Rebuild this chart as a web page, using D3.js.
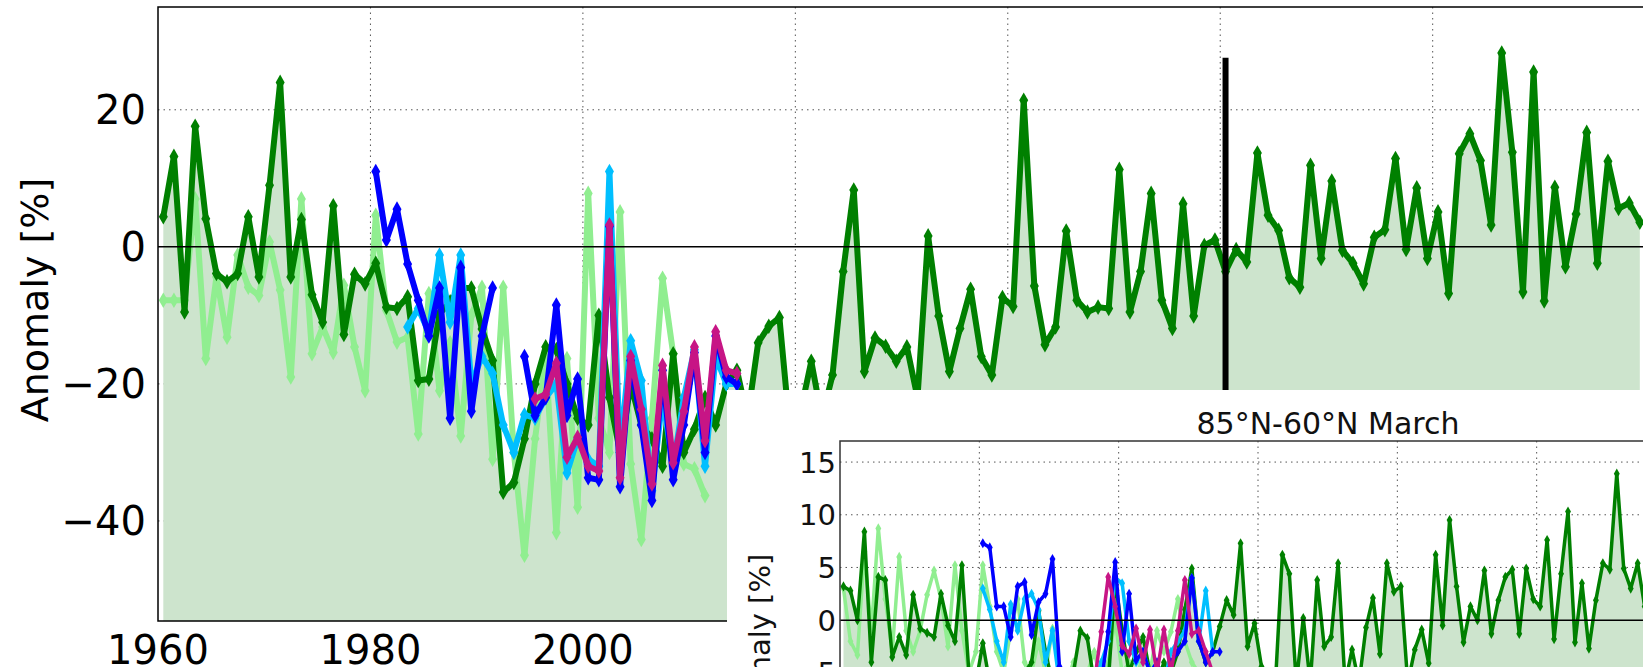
<!DOCTYPE html>
<html><head><meta charset="utf-8">
<script src="https://cdn.jsdelivr.net/npm/d3@7"></script>
<style>body{margin:0;background:#fff;overflow:hidden}text{font-family:"DejaVu Sans",sans-serif}</style>
</head><body><div id="chart"></div>
<script>
// ---- data (anomaly %, one value per year) ----
const modelStart = 1960
const modelMain = [4.4,13.2,-9.5,17.6,4.1,-3.9,-5.1,-3.9,4.4,-4.4,9,24,-4.4,4,-7,-11,6,-12.8,-4,-5.4,
  -2.4,-8.8,-9,-7.3,-19.5,-19.3,-9.8,-8,-6,-6,-12,-16.6,-35.8,-34.4,-28,-20,-14.6,-15,-20,-25,
  -26,-10,-22,-30,-20,-26,-28,-32,-15.6,-30,-26.6,-22,-26,-20,-18,-25,-14,-11.6,-10.3,-27,
  -24,-16.7,-25,-18.7,-3.6,8.3,-18.2,-13.3,-14.5,-16.7,-14.6,-22,1.6,-10.1,-18.2,-11.9,-6.2,-16,-18.7,-7.4,
  -8.7,21.4,-5.7,-14.3,-11.7,2.3,-7.8,-9.5,-8.8,-9,11.3,-9.5,-3.6,7.8,-7.8,-11.9,6.3,-10.1,0.2,1,
  -3.6,-0.4,-2.2,13.7,4.6,2.4,-4.5,-5.9,11.9,-1.7,9.6,-0.5,-2.4,-5.4,1.4,2.5,12.9,-0.4,8.6,-1.7,
  5.1,-6.8,13.6,16.5,12.6,3.2,28.3,13.8,-6.6,25.5,-7.9,8.7,-2.9,4.8,16.7,-2.4,12.5,5.6,6.4,3.6]
const lightStart = 1960
const lightMain = [-7.8,-7.8,-7.8,7,-16.3,-4.4,-13.2,-1.2,-5.9,-7.1,0.7,-6.3,-19,7,-15.6,-11.7,-15.4,-5.6,-14.6,-21,
  4.6,-9.3,-13.9,-13.2,-27.3,-6.8,-21,-14,-27.6,-10,-5.9,-31,-5.9,-30,-45,-28,-16,-41.7,-16.3,-38,
  7.8,-25,-30,5.1,-31.7,-42.7,-25,-4.6,-15.6,-31.7,-32.4,-36.3]
const blueStartA = 1980
const blueMainA = [11,1,5.5,-2.5,-7.8,-13,-6,-25,-3,-24,-13,-6]
const blueStartB = 1994
const blueMainB = [-16,-24.6,-22,-8.5,-24.6,-19.3,-33.7,-34,3,-35,-16.6,-26,-37,-18,-34,-26,-15.4,-30,-13,-19,-20]
const cyanStart = 1983
const cyanMain = [-11.7,-9,-12.5,-1.2,-11,-1.2,-20,-16,-18.5,-26,-30,-24.5,-25,-22,-20,-33,-28,-31,-32,11,
  -30,-13.7,-19.5,-35.6,-22,-32,-22,-15,-32,-16,-20,-20]
const magStart = 1995
const magMain = [-22.2,-21.5,-17,-30.7,-27.8,-32,-32.7,3.2,-33.7,-16,-23.7,-34.6,-17.3,-31.5,-24,-14.6,-28.3,-12.4,-18,-18.5]
const splitYear = 2060.5

// inset (85N-60N March)
const modelInset = [3.2,2.8,0,8.4,-4,4.1,3.8,-3.5,-1.6,-3.3,2.4,-0.8,-1.2,-1.6,2.5,-0.5,-2,5.2,-5,-6,
  -2.2,-6,-5,-6,-5,-6,-5,-4,0.9,-3,-6,-5,-6,-5,-1,-1.7,-6,-5,-6,3.8,
  -1,-5,-3,-1.6,-5,-6,-4,-5,-3,1,4.9,-2,-4,-3,-0.6,1.9,0.5,7.3,-2.5,-0.3,
  -4.4,-7,-6,6.2,4.4,-6,0.2,-6,3.8,-2.5,-1.6,5.4,-6,-2.8,-6,-0.7,2.1,-3.2,5.4,2.7,
  3.2,-6,-2.8,-0.9,-4.1,6.2,-0.5,9.5,3.2,-2.1,1.3,0,4.7,-1.3,1.9,4.1,4.8,-1.3,4.9,2,
  1.3,7.6,-1.8,4.4,10.3,-2.1,3.5,-2.7,1.9,5.4,4.8,13.9,4.9,3,5.4,1.3]
const lightInset = [3,-2,-3.3,6.5,-1,8.7,2,-3,6,-1,-3,-1,2.4,4.7,2,-2.5,5.2,-1,-5,-3,
  5.2,1.3,-3,-5,-1,2,-4,-5,-2,-5,-0.8,-5,-6,-4,-6,-5,-3,-6,-4,0,-5,-4,-6,-3,-5,-1,-3,-1.1,2,-2,-4,-5]
const blueInsetA = [7.3,6.9,1.3,1.3,-1.6,3.2,3.6,-1.4,1.7,2.5,5.8,-4.4,-6]
const blueInsetB = [-6,-6,-5,-6,-1.1,5.5,-3,2.5,-3.8,-3,-5,-4,-6,-4,-3,-2,4,-2,-4,-3,-3]
const cyanInset = [3,1,-2,-4,1.5,-1,2,2.5,1,-4,-1,-6,-6,-5,-6,-5,-6,-4,-2,4,
  3.5,-2,-4,-3,-5,-4,-6,-3,-2,-1,4,-2,2.8,-3]
const magInset = [-6,-6,-1.1,4.1,1.3,-2.4,-3.2,-0.8,-4,-0.9,-5,-0.9,-5,-1,3.8,-1.3,-1,-3,-5]

const mainTicksX = [1960, 1980, 2000, 2020, 2040, 2060, 2080]
const mainTicksY = [20, 0, -20, -40]
const insetTicksY = [15, 10, 5, 0, -5]

const series = (vals, start) => vals.map((v, i) => ({year: start + i, v}))

const W = 1643, H = 667
const svg = d3.select("#chart").append("svg").attr("width", W).attr("height", H)

const colors = {model: "#008000", light: "#90ee90", blue: "#0000ff", cyan: "#00bfff", mag: "#c71585"}
const fillColor = "#cde4cd"

function panel(g, x, y, opts) {
  const [x0, x1] = x.range(), [y1, y0] = y.range()
  const id = opts.id
  svg.append("clipPath").attr("id", id).append("rect")
    .attr("x", x0).attr("y", y0).attr("width", x1 - x0).attr("height", y1 - y0)

  // grid
  opts.ticksX.forEach(t => {
    g.append("line").attr("x1", x(t)).attr("x2", x(t)).attr("y1", y0).attr("y2", y1)
      .attr("stroke", "#555").attr("stroke-width", 1).attr("stroke-dasharray", "1.5,4")
  })
  opts.ticksY.filter(t => t != 0).forEach(t => {
    g.append("line").attr("x1", x0).attr("x2", x1).attr("y1", y(t)).attr("y2", y(t))
      .attr("stroke", "#555").attr("stroke-width", 1).attr("stroke-dasharray", "1.5,4")
  })

  const body = g.append("g").attr("clip-path", `url(#${id})`)
  const px = d => x(d.year + 0.5)
  const area = d3.area().x(px).y0(y1).y1(d => y(d.v))
  const line = d3.line().x(px).y(d => y(d.v))
  const model = series(opts.model, modelStart)
  body.append("path").datum(model).attr("d", area).attr("fill", fillColor)

  const sym = d3.symbol().type(d3.symbolDiamond).size(opts.msize)
  opts.lines.forEach(([data, col]) => {
    body.append("path").datum(data).attr("d", line).attr("fill", "none")
      .attr("stroke", col).attr("stroke-width", opts.lw).attr("stroke-linejoin", "round")
    body.selectAll(null).data(data).join("path")
      .attr("d", sym).attr("fill", col)
      .attr("transform", d => `translate(${px(d)},${y(d.v)})`)
  })

  // zero line
  g.append("line").attr("x1", x0).attr("x2", x1).attr("y1", y(0)).attr("y2", y(0))
    .attr("stroke", "#000").attr("stroke-width", opts.zw)
  return body
}

// ---- main panel ----
const xMain = d3.scaleLinear().domain([1960, 2099.8]).range([158, 1643])
const yMain = d3.scaleLinear().domain([-54.6, 35]).range([621, 7])
const gMain = svg.append("g")
const bodyMain = panel(gMain, xMain, yMain, {
  id: "clipMain", ticksX: mainTicksX.slice(1), ticksY: mainTicksY, lw: 6, msize: 70, zw: 1.5,
  model: modelMain,
  lines: [[series(lightMain, lightStart), colors.light], [series(modelMain, modelStart), colors.model],
          [series(cyanMain, cyanStart), colors.cyan], [series(blueMainA, blueStartA), colors.blue],
          [series(blueMainB, blueStartB), colors.blue], [series(magMain, magStart), colors.mag]]
})
bodyMain.append("line").attr("x1", xMain(splitYear)).attr("x2", xMain(splitYear))
  .attr("y1", yMain(27.6)).attr("y2", yMain(-54.6)).attr("stroke", "#000").attr("stroke-width", 6)
gMain.append("rect").attr("x", 158).attr("y", 7).attr("width", 1643 - 158 + 2).attr("height", 614)
  .attr("fill", "none").attr("stroke", "#000").attr("stroke-width", 1.5)
mainTicksY.forEach(t => gMain.append("text").attr("x", 146).attr("y", yMain(t)).attr("dy", "0.36em")
  .attr("text-anchor", "end").attr("font-size", 40).text(d3.format("")(t).replace("-", "\u2212")))
mainTicksX.forEach(t => gMain.append("text").attr("x", xMain(t)).attr("y", 664)
  .attr("text-anchor", "middle").attr("font-size", 40).text(t))
gMain.append("text").attr("transform", "translate(48,300) rotate(-90)").attr("text-anchor", "middle")
  .attr("font-size", 38).text("Anomaly [%]")

// ---- inset panel ----
const gIn = svg.append("g")
gIn.append("rect").attr("x", 727).attr("y", 390).attr("width", W - 727).attr("height", H - 390).attr("fill", "#fff")
const xIn = d3.scaleLinear().domain([1960, 2080]).range([840, 1676])
const yIn = d3.scaleLinear().domain([-22, 17]).range([852, 441])
panel(gIn, xIn, yIn, {
  id: "clipIn", ticksX: [1980, 2000, 2020, 2040, 2060], ticksY: insetTicksY.concat([-10, -15, -20]), lw: 3.5, msize: 30, zw: 1.5,
  model: modelInset,
  lines: [[series(lightInset, 1960), colors.light], [series(modelInset, modelStart), colors.model],
          [series(cyanInset, 1980), colors.cyan], [series(blueInsetA, 1980), colors.blue],
          [series(blueInsetB, 1994), colors.blue], [series(magInset, 1995), colors.mag]]
})
gIn.append("rect").attr("x", 840).attr("y", 441).attr("width", 840).attr("height", 420)
  .attr("fill", "none").attr("stroke", "#333").attr("stroke-width", 1.5)
insetTicksY.forEach(t => gIn.append("text").attr("x", 836).attr("y", yIn(t)).attr("dy", "0.36em")
  .attr("text-anchor", "end").attr("font-size", 29).attr("fill", "#111").text(String(t).replace("-", "\u2212")))
gIn.append("text").attr("transform", "translate(770,647) rotate(-90)").attr("text-anchor", "middle")
  .attr("font-size", 29).attr("fill", "#111").text("Anomaly [%]")
gIn.append("text").attr("x", 1328).attr("y", 434).attr("text-anchor", "middle")
  .attr("font-size", 30).attr("fill", "#111").text("85°N-60°N March")
</script></body></html>
